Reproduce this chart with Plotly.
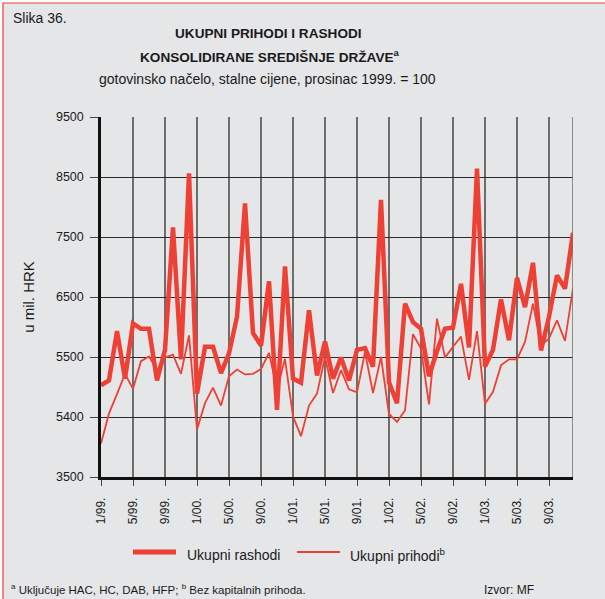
import plotly.graph_objects as go

# Monthly series, January 1999 - December 2003 (mil. HRK, constant prices)
months = [f"{m}/{y:02d}." for y in (99, 0, 1, 2, 3) for m in range(1, 13)]

rashodi = [5030, 5110, 5930, 5140, 6060, 5970, 5970, 5110, 5620, 7660, 5460, 8560,
           4890, 5670, 5670, 5230, 5560, 6170, 8060, 5900, 5690, 6760, 4620, 7010,
           5140, 5070, 6280, 5190, 5760, 5140, 5490, 5110, 5620, 5650, 5340, 8120,
           5080, 4730, 6390, 6080, 5970, 5180, 5600, 5970, 5990, 6720, 5660, 8640,
           5340, 5620, 6460, 5780, 6820, 6330, 7070, 5610, 6170, 6860, 6640, 7570]

prihodi = [4060, 4560, 4880, 5220, 4970, 5430, 5510, 5280, 5490, 5540, 5220, 5860,
           4290, 4730, 4990, 4690, 5180, 5290, 5210, 5220, 5300, 5570, 4960, 5470,
           4510, 4180, 4690, 4890, 5500, 4900, 5280, 4960, 4910, 5580, 4900, 5500,
           4550, 4420, 4610, 5880, 5640, 4710, 6140, 5490, 5670, 5840, 5120, 5930,
           4720, 4920, 5360, 5460, 5460, 5750, 6390, 5690, 5810, 6110, 5770, 6640]

y_ticks = [3500, 4500, 5500, 6500, 7500, 8500, 9500]
y_tick_text = ["3500", "5400", "5500", "6500", "7500", "8500", "9500"]

x_idx = list(range(len(months)))
x_tick_idx = x_idx[::4]
x_tick_text = months[::4]

W, H = 605, 599
L, R, T, B = 101, 32, 117, 122
PW, PH = W - L - R, H - T - B

def px(xp):
    return (xp - L) / PW

def py(yp):
    return (H - B - yp) / PH

RED = "#ee4035"
BG = "#e5e6e7"
FONT = "Arial, Liberation Sans, Helvetica, sans-serif"

fig = go.Figure()
fig.add_trace(go.Scatter(x=x_idx, y=rashodi, mode="lines", name="Ukupni rashodi",
                         line=dict(color=RED, width=4.5), showlegend=False))
fig.add_trace(go.Scatter(x=x_idx, y=prihodi, mode="lines", name="Ukupni prihodi",
                         line=dict(color=RED, width=1.8), showlegend=False))

shapes = [
    # framed grey panel
    dict(type="rect", xref="paper", yref="paper", x0=px(3), x1=px(640), y0=py(3), y1=py(640),
         fillcolor=BG, line=dict(color=RED, width=1.2), layer="below"),
    # right edge of the plot area
    dict(type="line", xref="x", yref="paper", x0=59, x1=59, y0=0, y1=1,
         line=dict(color="#6d6d6d", width=1.5)),
    # legend samples
    dict(type="line", xref="paper", yref="paper", x0=px(133), x1=px(176), y0=py(552), y1=py(552),
         line=dict(color=RED, width=5)),
    dict(type="line", xref="paper", yref="paper", x0=px(297), x1=px(340), y0=py(552), y1=py(552),
         line=dict(color=RED, width=2)),
]

def note(text, x, y, size, xanchor="left", bold=False):
    return dict(text=f"<b>{text}</b>" if bold else text, xref="paper", yref="paper",
                x=px(x), y=py(y), xanchor=xanchor, yanchor="middle", showarrow=False,
                font=dict(family=FONT, size=size, color="#1a1a1a"))

annotations = [
    note("Slika 36.", 11, 18, 14),
    note("UKUPNI PRIHODI I RASHODI", 268, 34, 13.6, "center", True),
    note("KONSOLIDIRANE SREDIŠNJE DRŽAVE<sup>a</sup>", 270, 56, 13.6, "center", True),
    note("gotovinsko načelo, stalne cijene, prosinac 1999. = 100", 267, 79, 14, "center"),
    note("Ukupni rashodi", 185, 555, 14),
    note("Ukupni prihodi<sup>b</sup>", 348, 555, 14),
    note("<sup>a</sup> Uključuje HAC, HC, DAB, HFP; <sup>b</sup> Bez kapitalnih prihoda.", 9, 589, 11.5),
    note("Izvor: MF", 482, 590, 12),
]

fig.update_layout(
    width=W, height=H,
    margin=dict(l=L, r=R, t=T, b=B, autoexpand=False),
    paper_bgcolor="white", plot_bgcolor=BG,
    font=dict(family=FONT, color="#1a1a1a"),
    shapes=shapes, annotations=annotations,
    xaxis=dict(range=[0, 59], tickvals=x_tick_idx, ticktext=x_tick_text, tickangle=-90,
               showgrid=True, gridcolor="#6d6d6d", gridwidth=1.5,
               ticks="outside", ticklen=6, tickcolor="#444", tickwidth=1,
               ticklabelstandoff=7, tickfont=dict(size=12),
               showline=True, linecolor="#111", linewidth=2.5, zeroline=False),
    yaxis=dict(range=[3500, 9500], tickvals=y_ticks, ticktext=y_tick_text,
               showgrid=True, gridcolor="#2a2a2a", gridwidth=1,
               ticks="outside", ticklen=8, tickcolor="#444", tickwidth=1,
               ticklabelstandoff=4, tickfont=dict(size=12.5),
               showline=True, linecolor="#111", linewidth=2.5, zeroline=False,
               title=dict(text="u mil. HRK", font=dict(size=15), standoff=18)),
)

fig.write_html("out.html")
